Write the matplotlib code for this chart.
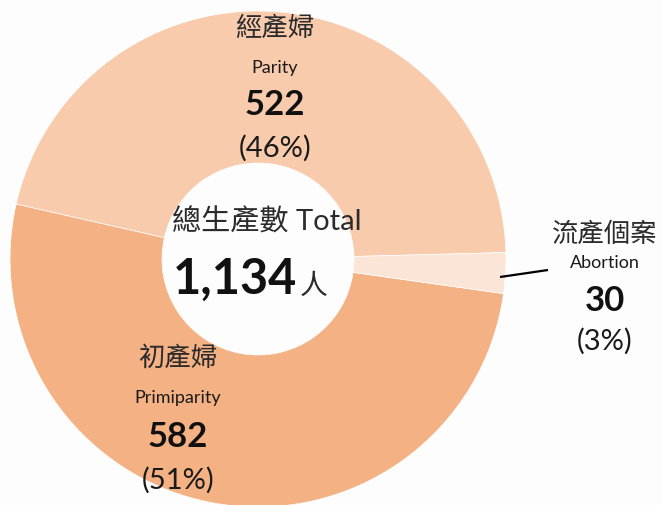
import matplotlib.pyplot as plt

# chart data
labels_zh = ['經產婦', '初產婦', '流產個案']
labels_en = ['Parity', 'Primiparity', 'Abortion']
counts = [522, 582, 30]
colors = ['#F8CBAD', '#F4B183', '#FBE5D6']
total = sum(counts)
unit = '人'
center_title = '總生產數 Total'

plt.rcParams['font.family'] = ['Lato', 'Noto Sans CJK TC', 'DejaVu Sans']

W, H = 662, 506
fig = plt.figure(figsize=(W / 100, H / 100), dpi=100, facecolor='#FDFDFD')
ax = fig.add_axes([0, 0, 1, 1])
ax.set_facecolor('#FDFDFD')


def py(y):
    # pixel row (from top) -> data y
    return H - y


cx, cy, r_out, r_in = 258, py(260), 248, 96
ax.pie(counts, colors=colors, startangle=1.5, counterclock=True,
       center=(cx, cy), radius=r_out,
       wedgeprops=dict(width=r_out - r_in, edgecolor='white', linewidth=0.5))
ax.set_xlim(0, W)
ax.set_ylim(0, H)
ax.set_aspect('equal')
ax.axis('off')

# label blocks: x centre and the four line rows (pixels from top)
label_x = [275, 178, 605]
label_rows = [(28, 68, 105, 148), (358, 398, 437, 480), (234, 263, 301, 341)]

for i in range(len(counts)):
    x = label_x[i]
    y_zh, y_en, y_num, y_pct = label_rows[i]
    pct = round(counts[i] / total * 100)
    ax.text(x, py(y_zh), labels_zh[i], ha='center', va='center',
            fontsize=19, color='#2b2b2b', family=['Noto Sans CJK TC'])
    ax.text(x, py(y_en), labels_en[i], ha='center', va='center',
            fontsize=13, color='#1a1a1a')
    ax.text(x, py(y_num), f'{counts[i]}', ha='center', va='center',
            fontsize=25, fontweight='bold', color='#111111')
    ax.text(x, py(y_pct), f'({pct}%)', ha='center', va='center',
            fontsize=21, color='#1a1a1a')

# leader line for the small slice
ax.plot([500, 548], [py(278), py(271)], color='black', lw=1.6,
        solid_capstyle='butt')

# centre text
ax.text(267, py(222), center_title, ha='center', va='center',
        fontsize=21, color='#2b2b2b')
ax.text(297, py(294), f'{total:,}', ha='right', va='baseline',
        fontsize=35, fontweight='bold', color='#111111')
ax.text(300, py(294), unit, ha='left', va='baseline',
        fontsize=20, color='#2b2b2b', family=['Noto Sans CJK TC'])

fig.savefig('out.png', dpi=100, facecolor=fig.get_facecolor())
